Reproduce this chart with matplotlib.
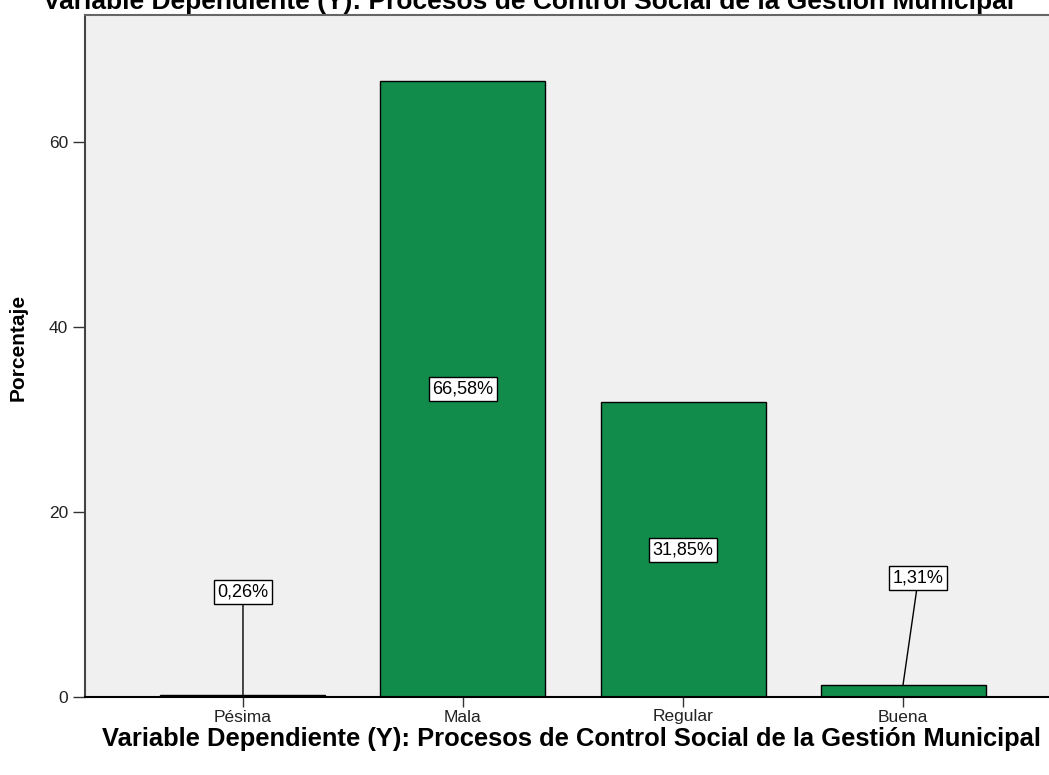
import matplotlib.pyplot as plt
import numpy as np

plt.rcParams['font.family'] = ['Liberation Sans', 'DejaVu Sans']

# data
categorias = ["Pésima", "Mala", "Regular", "Buena"]
porcentajes = [0.26, 66.58, 31.85, 1.31]
etiquetas = ["0,26%", "66,58%", "31,85%", "1,31%"]
titulo = "Variable Dependiente (Y): Procesos de Control Social de la Gestión Municipal"

W, H = 1049, 775
fig = plt.figure(figsize=(W / 100, H / 100), dpi=100)
# plot area: left 85px, top 15px, bottom 697px, right edge cut off (~1061px)
ax = fig.add_axes([85 / W, 1 - 697 / H, (1061 - 85) / W, (697 - 15) / H])
ax.set_facecolor('#F0F0F0')

x = np.arange(len(categorias))
ax.bar(x, porcentajes, width=0.75, color='#128C4A', edgecolor='black', linewidth=1, zorder=2)

ax.set_xlim(-0.718, len(categorias) - 1 + 0.718)
ax.set_ylim(0, 73.7)
ax.set_yticks([0, 20, 40, 60])
ax.set_xticks(x)
ax.set_xticklabels(categorias)
ax.tick_params(axis='both', labelsize=12.5, width=1, color='#333333', labelcolor='#222222')
ax.tick_params(axis='x', length=7, pad=2)
ax.tick_params(axis='y', length=9, pad=3)

for s in ['top', 'right']:
    ax.spines[s].set_color('#666666')
    ax.spines[s].set_linewidth(1.5)
ax.spines['left'].set_color('#444444')
ax.spines['left'].set_linewidth(1.5)
ax.spines['bottom'].set_color('black')
ax.spines['bottom'].set_linewidth(1.5)

box = dict(boxstyle='square,pad=0.2', facecolor='white', edgecolor='black', linewidth=1)
# big bars: label centered in bar
for i in [1, 2]:
    ax.text(x[i], porcentajes[i] / 2, etiquetas[i], ha='center', va='center',
            fontsize=13, bbox=box, zorder=4)
# small bars: label above with leader line
ax.annotate(etiquetas[0], xy=(x[0], porcentajes[0]), xytext=(x[0], 11.35),
            ha='center', va='center', fontsize=13, bbox=box, zorder=4,
            arrowprops=dict(arrowstyle='-', color='black', lw=1, shrinkA=0, shrinkB=0))
ax.annotate(etiquetas[3], xy=(x[3], porcentajes[3]), xytext=(x[3] + 0.07, 12.9),
            ha='center', va='center', fontsize=13, bbox=box, zorder=4,
            arrowprops=dict(arrowstyle='-', color='black', lw=1, shrinkA=0, shrinkB=0))

fig.text(18 / W, 1 - 347 / H, "Porcentaje", rotation=90, ha='center', va='center',
         fontsize=15, fontweight='bold')
fig.text(571 / W, 1 - 746 / H, titulo, ha='center', va='baseline', fontsize=18.4, fontweight='bold')
# title at the top, partially cut off
fig.text(529 / W, 1 - 9 / H, titulo, ha='center', va='baseline', fontsize=19, fontweight='bold')

fig.savefig('out.png', dpi=100)
